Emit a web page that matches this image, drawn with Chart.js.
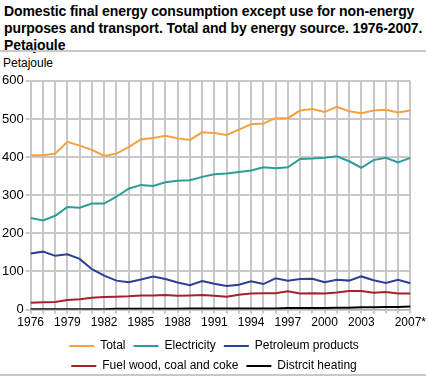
<!DOCTYPE html>
<html>
<head>
<meta charset="utf-8">
<script src="https://cdn.jsdelivr.net/npm/chart.js@4/dist/chart.umd.min.js"></script>
<style>
  body { margin: 0; width: 428px; height: 376px; background: #fff; font-family: "Liberation Sans", Arial, sans-serif; position: relative; overflow: hidden; }
  #title { position: absolute; left: 4px; top: 3px; font-size: 14px; font-weight: bold; line-height: 17px; color: #000; white-space: nowrap; letter-spacing: -0.1px; }
  #sep { position: absolute; left: 0; top: 50px; width: 426px; height: 2px; background: #c8c8c8; }
  #unit { position: absolute; left: 3px; top: 56px; font-size: 12px; color: #000; }
  #wrap { position: absolute; left: 0; top: 71px; width: 428px; height: 311px; }
  #bottom { position: absolute; left: 0; top: 374px; width: 426px; height: 2px; background: #c8c8c8; }
</style>
</head>
<body>
<div id="title">Domestic final energy consumption except use for non-energy<br>purposes and transport. Total and by energy source. 1976-2007.<br>Petajoule</div>
<div id="sep"></div>
<div id="unit">Petajoule</div>
<div id="wrap"><canvas id="chart"></canvas></div>
<div id="bottom"></div>
<script>
// ===== Data =====
const years = ['1976','1977','1978','1979','1980','1981','1982','1983','1984','1985','1986','1987','1988','1989','1990',
  '1991','1992','1993','1994','1995','1996','1997','1998','1999','2000','2001','2002','2003','2004','2005','2006','2007*'];

const total = [405, 405, 409, 440, 430, 419, 403, 409, 426, 446, 450, 456, 449, 445, 465,
  463, 458, 472, 486, 488, 502, 502, 522, 526, 518, 532, 520, 515, 522, 524, 517, 522];

const electricity = [240, 234, 246, 269, 267, 278, 278, 296, 317, 327, 324, 334, 338, 339, 348,
  355, 357, 361, 365, 373, 371, 373, 395, 396, 398, 402, 389, 372, 392, 398, 386, 398];

const petroleum = [147, 152, 141, 145, 133, 106, 89, 76, 72, 79, 87, 80, 71, 64, 75,
  68, 62, 65, 74, 67, 82, 76, 80, 81, 72, 78, 76, 87, 77, 70, 78, 69];

const fuelWood = [18, 19, 20, 25, 27, 31, 33, 34, 35, 37, 37, 38, 36, 37, 38,
  36, 34, 39, 42, 43, 43, 48, 42, 43, 42, 45, 49, 49, 44, 46, 42, 42];

const districtHeating = [1, 1, 1, 1, 1, 1, 1, 2, 2, 2, 2, 2, 2, 3, 3,
  3, 3, 3, 3, 3, 3, 4, 4, 4, 4, 5, 5, 6, 6, 7, 7, 8];

const yTicks = [0, 100, 200, 300, 400, 500, 600];

Chart.defaults.font.family = '"Liberation Sans", Arial, sans-serif';
Chart.defaults.color = '#000';

// only every third year gets a label, plus the last one
const showYear = i => (i % 3 === 0 && i < 30) || i === years.length - 1;

function series(label, data, color) {
  return {
    label: label,
    data: data,
    borderColor: color,
    backgroundColor: color,
    borderWidth: 2,
    pointRadius: 0,
    tension: 0,
    fill: false
  };
}

new Chart(document.getElementById('chart'), {
  type: 'line',
  data: {
    labels: years,
    datasets: [
      series('Total', total, '#f7a040'),
      series('Electricity', electricity, '#2a9d98'),
      series('Petroleum products', petroleum, '#2a3f96'),
      series('Fuel wood, coal and coke', fuelWood, '#a3232a'),
      series('Distrcit heating', districtHeating, '#000000')
    ]
  },
  options: {
    responsive: true,
    maintainAspectRatio: false,
    animation: false,
    layout: { padding: { top: 2, left: 0, right: 0, bottom: 0 } },
    plugins: {
      title: { display: false },
      tooltip: { enabled: false },
      legend: {
        position: 'bottom',
        labels: {
          usePointStyle: true,
          pointStyle: 'line',
          pointStyleWidth: 25,
          padding: 8,
          font: { size: 12, lineHeight: 0.95 }
        }
      }
    },
    scales: {
      x: {
        type: 'category',
        position: 'bottom',
        grid: { display: true, drawOnChartArea: true, drawTicks: true, color: '#c8c8c8', lineWidth: 2, tickLength: 4 },
        ticks: {
          autoSkip: false,
          maxRotation: 0,
          padding: 2,
          font: { size: 12 },
          color: ctx => showYear(ctx.index) ? '#000' : 'rgba(0,0,0,0)'
        }
      },
      y: {
        min: 0,
        max: 600,
        afterBuildTicks: axis => { axis.ticks = yTicks.map(v => ({ value: v })); },
        grid: { color: '#c8c8c8', lineWidth: 2, tickLength: 5 },
        border: { display: false },
        ticks: { padding: 2, font: { size: 13 } }
      }
    }
  }
});
</script>
</body>
</html>
